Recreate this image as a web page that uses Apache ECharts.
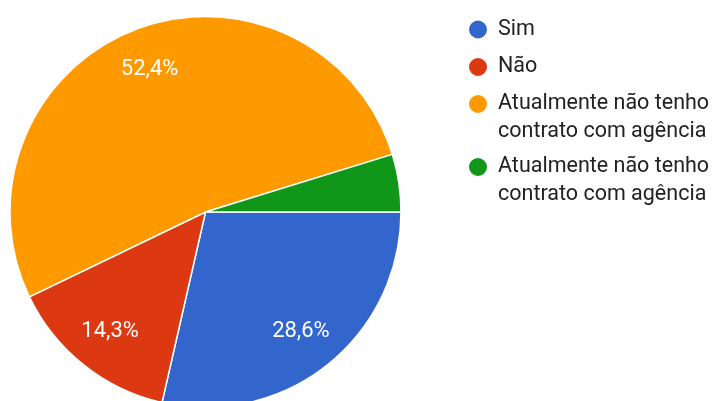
<!DOCTYPE html>
<html>
<head>
<meta charset="utf-8">
<script src="https://cdn.jsdelivr.net/npm/echarts@6/dist/echarts.min.js"></script>
<style>
  html, body { margin: 0; padding: 0; background: #ffffff; }
  #chart { width: 715px; height: 401px; }
</style>
</head>
<body>
<div id="chart"></div>
<script>
// Answer keys (unique ids), their visible legend labels, counts and colours
const answerKeys = ['sim', 'nao', 'atual_a', 'atual_b'];
const answerLabels = [
  'Sim',
  'Não',
  'Atualmente não tenho\ncontrato com agência',
  'Atualmente não tenho\ncontrato com agência'
];
const answerCounts = [6, 3, 11, 1];
const sliceColors = ['#3366cc', '#dc3912', '#ff9900', '#109618'];

// slices below this share get no percentage label
const minLabelPercent = 5;

const FONT = 'Roboto, "Noto Sans", sans-serif';
const CENTER = [205.5, 212];
const RADIUS = 195.5;

const labelOf = {};
answerKeys.forEach((k, i) => { labelOf[k] = answerLabels[i]; });

const pieData = answerKeys.map((k, i) => ({
  name: k,
  value: answerCounts[i],
  itemStyle: { color: sliceColors[i] }
}));

// Multi-line entries get a leading blank line so the marker sits beside the first line
function legendText(key) {
  const t = labelOf[key];
  return t.indexOf('\n') >= 0 ? '\n' + t : t;
}

const legendCommon = {
  orient: 'vertical',
  left: 462,
  icon: 'circle',
  itemWidth: 30,
  itemHeight: 20,
  selectedMode: true,
  formatter: legendText,
  textStyle: {
    fontFamily: FONT,
    fontSize: 21.5,
    lineHeight: 28,
    color: '#222222'
  }
};

const chart = echarts.init(document.getElementById('chart'), null, { renderer: 'canvas' });

chart.setOption({
  backgroundColor: '#ffffff',
  animation: false,
  legend: [
    Object.assign({}, legendCommon, {
      top: 10.5,
      itemGap: 9.5,
      data: answerKeys.slice(0, 2)
    }),
    Object.assign({}, legendCommon, {
      top: 57,
      itemGap: -21,
      data: answerKeys.slice(2)
    })
  ],
  series: [
    {
      // coloured slices
      type: 'pie',
      center: CENTER,
      radius: [0, RADIUS],
      startAngle: 0,
      clockwise: true,
      label: { show: false },
      labelLine: { show: false },
      itemStyle: { borderColor: '#ffffff', borderWidth: 1.5 },
      emphasis: { disabled: true },
      data: pieData
    },
    {
      // percentage labels, placed on a ring at about three quarters of the radius
      type: 'pie',
      center: CENTER,
      radius: [104.5, RADIUS],
      startAngle: 0,
      clockwise: true,
      silent: true,
      legendHoverLink: false,
      itemStyle: { color: 'transparent', borderWidth: 0 },
      emphasis: { disabled: true },
      labelLine: { show: false },
      label: {
        show: true,
        position: 'inside',
        fontFamily: FONT,
        fontSize: 22,
        color: '#ffffff',
        formatter: p => p.percent < minLabelPercent
          ? ''
          : p.percent.toFixed(1).replace('.', ',') + '%'
      },
      data: answerKeys.map((k, i) => ({ name: k, value: answerCounts[i] }))
    }
  ]
});
</script>
</body>
</html>
